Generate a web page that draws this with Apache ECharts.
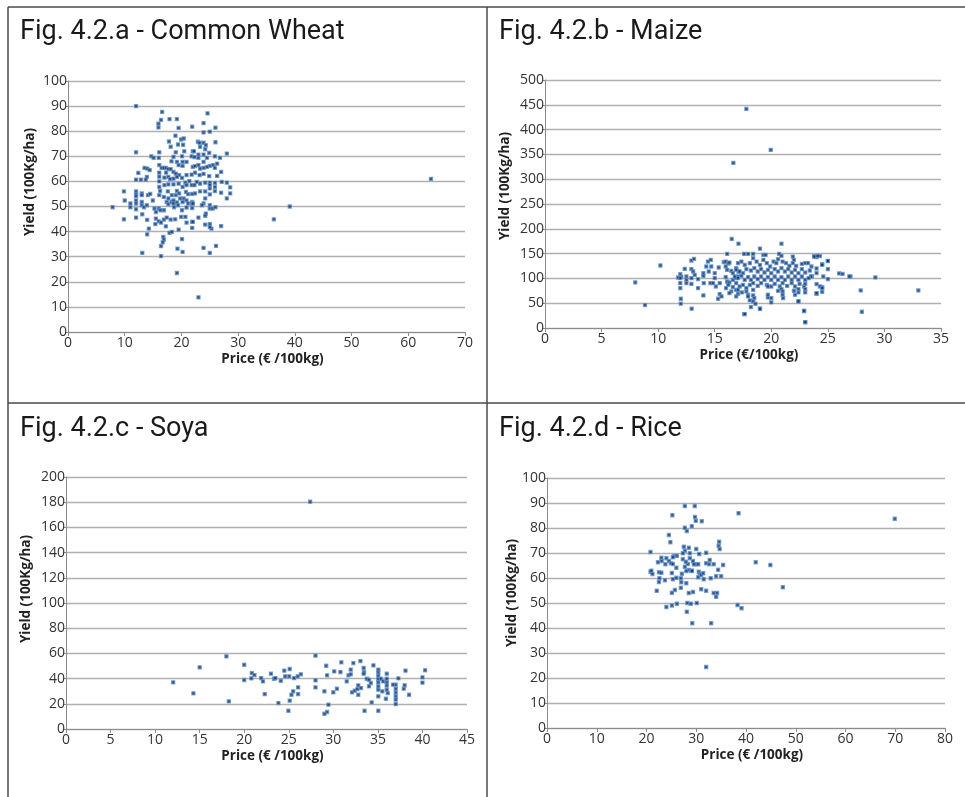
<!DOCTYPE html>
<html>
<head>
<meta charset="utf-8">
<title>Price vs yield scatter plots</title>
<script src="https://cdn.jsdelivr.net/npm/echarts@6/dist/echarts.min.js"></script>
<style>
  html, body { margin: 0; padding: 0; background: #ffffff; }
  #chart { width: 965px; height: 797px; }
</style>
</head>
<body>
<div id="chart"></div>
<script>
// Panel titles
const panelTitles = ['Fig. 4.2.a - Common Wheat', 'Fig. 4.2.b - Maize', 'Fig. 4.2.c - Soya', 'Fig. 4.2.d - Rice'];
const xNames = ['Price (€ /100kg)', 'Price (€/100kg)', 'Price (€ /100kg)', 'Price (€ /100kg)'];
const yName = 'Yield (100Kg/ha)';

// Axis ranges: [xMax, xStep, yMax, yStep]
const xMax = [70, 35, 45, 80];
const xStep = [10, 5, 5, 10];
const yMax = [100, 500, 200, 100];
const yStep = [10, 50, 20, 10];

// Common wheat: [price, yield]
const wheatPoints = [
  [12,90],[16.6,87.7],[16.4,84.5],[15.95,83],[15.95,81.5],[17.9,84.8],[19.2,84.8],[19.5,81.3],
  [18.95,78.2],[17.8,75.9],[19.95,76.7],[20.4,77.1],[19.4,74.7],[20.3,74.6],[18.1,73.8],
  [16.1,71.6],[12,71.6],[14.7,70],[15.1,69.4],[16,69.4],[19,71.6],[20.5,72],[22,72],
  [20.1,70],[21.8,70],[18.6,69.8],[18.25,68],[19.2,67.8],[20.2,67.8],[20.9,67.8],[22.3,69.7],[19.5,66.5],[20.2,66.2],[22,65.8],
  [16.1,66.5],[16.5,65.4],[16.9,65.4],[17.3,65.4],[17.7,64.9],[18.1,64.9],[13.5,65.4],[14,65.1],[14.4,64.5],[12.4,63.4],
  [16.1,63.5],[17.3,63.5],[18.6,63.8],[19,63.1],[19.6,62.5],[20.9,62.5],[21.8,62.7],[22.4,63.5],
  [13.9,61.8],[13.7,60.7],[12.85,60.7],[12,60.7],[16.1,61.9],[16.1,60],[17,61.5],[17.7,61.8],[18,60.9],[18.6,61.1],
  [19.2,61.8],[20.1,61.4],[20.7,59.5],[21.4,60.1],[21.8,58.5],[22.3,58.5],[20.9,58.5],[20.2,57.8],[19.5,59.1],
  [18.6,58.8],[17.7,58.8],[17,58.5],[16.1,57.8],
  [9.86,56],[12,56],[12,54.9],[12,54.1],[13,55.2],[13,54.5],[14.1,54.5],[14.5,55],[16.25,56.2],[16.1,54.5],
  [17.6,56],[18.3,54.5],[19.2,56.2],[19.6,55.2],[20.8,55.8],[21.2,54.9],[21.9,55],[20.4,53.2],[19,54.5],[17.7,53.2],[16.9,53.8],
  [7.86,49.7],[10,52.4],[11,51.2],[11,49.7],[12,52.4],[12,51.2],[12,48.9],[13,51.8],[13,50.5],[13.4,49.7],[13.9,50.5],
  [14.95,52.4],[15.25,49.2],[15.5,47.8],[16,49.2],[16.3,48.5],[16.9,48.5],[17.4,51.8],[17.7,50.9],[18.25,51.8],
  [18.6,52.4],[18.6,51.2],[19.2,51.6],[19.8,53.2],[20.2,51.8],[20.9,52.4],[21.2,51.2],[21.9,51.8],[18.7,49.7],
  [19.4,50.5],[20.1,48.5],[20.9,49.6],[21.9,49.4],[21.9,51.2],
  [9.86,44.9],[12,45.6],[13.1,46.9],[13.96,44.7],[15.5,45.2],[16,44.1],[16.9,44.8],[17.4,45.6],[18.1,44.8],[18.9,44.9],
  [19.95,45.9],[20.7,45.9],[20.9,43.6],[21.9,43.9],[21.9,41.5],[14.25,41.2],[13.96,38.9],[15.4,43],[16.4,43.6],
  [17.25,42.1],[17.9,39.5],[18.3,39.9],[19.5,40.8],[16.8,37.9],[16.9,36.8],[16.7,35.7],[16.4,34.2],[20.1,37],
  [13.1,31.5],[16.4,30.2],[19.3,33.2],[20.2,31.9],[19.2,23.5],
  [24.6,87.1],[23.9,83.2],[25,79.8],[23.9,79.5],[26,81.4],[21.9,81.8],[26,75.6],[22.9,75.8],[23.2,75.4],[23.9,75.4],
  [24.3,74.4],[23.3,73.8],[24.2,72.8],[28,71.1],[26.8,69.4],[24.9,71.4],[23.9,70.7],[23,70.7],[22.2,72],[24.5,69.4],
  [23,69.4],[23.9,67.8],[25.9,70],[26.3,67.1],[25.6,66.5],[25,66.2],[24.5,65.8],[23.9,65.4],[23.3,65.1],[23,66.5],
  [22.4,66.1],[25.9,65.4],[27,63.8],[24.9,62.1],[23.9,63],[23.2,62.5],[26.3,62.2],[22.7,59.8],[23.3,59.1],[24.2,59.5],
  [25,59.5],[25.9,59.4],[27.1,59.8],[28,59.5],[25,58.5],[25.9,57.8],[25,57.2],[25.9,56.1],[24.2,56],[23.3,56],
  [22.4,55.2],[27,55.5],[28.6,57.6],[28.6,55.2],[25,54.8],[28,53.2],[24.2,53.2],[23.9,51.2],[22,51.2],[25,50.5],
  [25,49.2],[25.5,49.2],[26,49.7],[23.6,50.5],[23,45.6],[24.3,47.2],[24.2,46.3],[22,43.9],[24.2,42.8],[25,43],
  [25.3,41.2],[27,42.2],[25,41.8],[23.9,33.5],[26.1,34.3],[25,31.5],[39.1,50],[36.3,44.9],[23,13.8],[64,61]
];

// Maize: [price, yield]
const maizePoints = [
  [17.8,441.7],[19.95,359],[16.65,333],[7.98,91.8],[8.84,46.2],[10.2,126],[12.96,38.9],[12,59],[12,49],
  [16.5,179.6],[17.1,170],[20.9,170],[19,160],[17.6,28],[19,39],[23,11.4],[22.9,34],[22.4,53.6],
  [27.9,75.7],[28,32.8],[33,75.7],[29.2,101.9],[27,103.9],[26,110],[26.3,109],
  [25,135],[25,118.6],[25,98.5],[24.6,103.9],[24.5,82.4],[24.5,73],[24.3,145],[24,142.8],[23.8,145],[24,120],
  [24,110.6],[24,88.5],[24,69],[23.6,104],[24.5,128.7],
  [16.1,149.4],[12.94,136],[13.17,139.4],[12.35,119.3],[11.96,108.5],[12.05,103.2],[11.76,101.8],[11.96,100.5],
  [12.5,103.8],[12.5,97.1],[12.5,90.4],[11.96,90.4],[11.96,80.4],[12.94,100.5],[12.94,118.6],[13.1,113.9],
  [13.23,107.2],[13.53,98.5],[12.94,89],[13.53,80.4],[14,110.5],[14,105],[14.03,90.4],[14,65.6],[14.4,134],
  [14.65,137.4],[14.26,124],[14.7,124],[14.47,113.9],[14.62,90.4],[14.85,90.4],[15,100.5],[15,110.5],[15.35,122],
  [15.1,83.7],[15.44,90.4],[15.44,68.3],[15.3,59],[15.6,63.6],[15.8,132.7],[15.97,134],[16.2,130],[15.97,124],
  [16.1,117.3],[16.3,132],[16.47,115.2],[16.6,110.5],[16.9,120.6],[17.1,113.9],[15.97,102.5],[16.1,93.8],[16.3,91.7],
  [16.6,97],[16.85,100.5],[17.06,103.8],[16.2,87],[16.6,82.4],[16.9,77],[16.47,73.7],[16,80.4],[16.3,70.3],
  [17.06,69],[16.9,63.6],
  [17.6,149.4],[17.95,149.4],[18.4,149.4],[19.3,147.4],[19.5,147.4],[20.7,149.4],[20.9,145.4],[21.9,144],[22,137.4],
  [23.8,144],[24.1,145.4],[25,135.4],[24.5,127.3],[26.9,103.8],
  [17.06,130.7],[17.36,134],[17.65,127.3],[18.1,130.7],[18.4,140.7],[18.7,134],[19,127.3],[19.3,137.4],[19.6,130.7],
  [19.9,124],[20.2,134],[20.45,130.7],[20.6,138.7],[21,134],[21.3,130.7],[21.6,125.3],[21.9,130.7],[22.2,125.3],
  [22.7,129.3],[23,130.7],[23.25,130.7],[23.55,124],
  [16.9,117.3],[17.2,113.9],[17.5,110.5],[17.8,118.6],[18.2,115.9],[18.5,120.6],[18.8,113.9],[19.1,118.6],[19.4,111.9],
  [19.7,117.3],[20,110.5],[20.3,118.6],[20.6,113.9],[20.9,120.6],[21.2,113.9],[21.5,118.6],[21.8,111.9],[22.1,117.3],
  [22.4,110.5],[22.7,118.6],[23,111.9],[23.4,115.9],[23.5,103.8],
  [16.77,103.8],[17.06,100.5],[17.36,105.2],[17.65,97.1],[17.95,102.5],[18.2,97.1],[18.5,103.8],[18.8,98.5],[19.1,103.8],
  [19.4,97.1],[19.7,102.5],[20,97.1],[20.3,103.8],[20.6,97.1],[20.9,102.5],[21.2,97.1],[21.5,103.8],[21.8,97.1],
  [22.1,103.8],[22.4,97.1],[22.7,103.8],[23,97.1],[23.3,100.5],
  [16.9,90.4],[17.2,83.7],[17.5,87],[17.8,80.4],[18.1,87],[18.4,90.4],[18.8,85],[19.1,90.4],[19.6,87],[20,83.7],
  [20.3,89.1],[20.75,83.7],[21,90.4],[21.4,85],[21.8,90.4],[22.1,83.7],[22.5,89.1],[22.9,83.7],[23,89.1],
  [17.06,77],[17.4,71.7],[17.8,73.7],[17.95,67],[18.4,77],[19.7,83.7],[20.6,75],[20.9,78.4],[21,73.7],[22,75],
  [22.4,78.4],[23,78.4],[23,71.7],[24,70.3],[24.3,83.7],[24.5,80.4],
  [17.95,63.6],[18.4,65.6],[18.5,60.3],[18.4,53.6],[18.1,55.6],[18.2,42.2],[18.6,48.9],[19,38.8],[20,60.3],[20,51.6],
  [19.7,61.6],[21.05,60.3],[22.4,53.6],[22.9,34.8],[23,12],[17.65,28.1],[22.4,71.7],[22.1,67],[19.7,67],[21,67]
];

// Soya: [price, yield]
const soyaPoints = [
  [12.03,37],[15,48.9],[14.3,28.3],[18,57.6],[18.27,21.9],[20,51],[20,38.9],[20.85,44.4],[21.15,42.8],[20.8,40.2],
  [21.9,40.4],[22.1,37.8],[22.3,27.7],[23,43.9],[23.35,39.9],[23.5,40.4],[24.1,38.3],[24.5,46.3],[24.6,41.8],[25.1,47.6],
  [25.05,41.8],[25.6,40.4],[26,41.8],[25.5,29.9],[25.3,27.2],[25.1,22.5],[26.05,33],[26.05,27.7],[23.84,20.6],[24.96,14.5],
  [28,58.2],[29.2,50.2],[29.3,42.6],[26.35,43.4],[28,38.6],[28,33],[29.45,19.3],[29.3,13.5],[29,12.1],[29,29.9],
  [30.1,45.7],[30.4,32],[30,29.1],[30.8,45.2],[30.9,52.9],[31.5,37.8],[31.7,42.6],[31.95,43.4],[31.95,47.1],[32.25,52.3],
  [32.1,29.1],[32.4,30.4],[32.7,31.7],[32.8,34.6],[32.8,27.2],[33.1,32.5],[33.04,53.9],[33.4,48.4],[33.45,45.2],[33.4,43.9],
  [33.75,39.9],[34,39.1],[34.2,36.5],[34,33.8],[34.5,50.5],[34.3,21.1],[33.5,14.5],[35.05,14.5],[35.05,47.1],[35.05,44.9],
  [35.05,42.3],[35.05,39.6],[35.05,37],[35.05,33.8],[35.05,31.2],[35.05,25.9],[35.35,39.9],[35.6,37.8],[35.99,43.9],
  [35.99,39.9],[35.99,37],[35.99,34.4],[35.99,31.2],[35.5,29.9],[36.1,28.5],[35.9,24],[37,19.8],[37,35.2],[37,32],
  [37,29],[37,26],[37,23.3],[36.7,35.2],[37.3,40.2],[37.9,32],[38,34.7],[38.1,46.3],[38.5,27.2],[40,41],[40,36.8],
  [40.3,46.6],[27.4,180.4]
];

// Rice: [price, yield]
const ricePoints = [
  [27.7,88.8],[29.7,88.8],[25.2,85.1],[38.5,85.9],[29.75,84.4],[29.9,82.9],[31.1,82.7],[29.1,80.7],[28.1,78.8],[27.7,80.1],
  [24.5,77.2],[24.8,74.3],[34.6,74.5],[34.5,72.9],[34.7,71.6],[20.8,70.4],[27.5,72.5],[28.5,72.1],[30,71.6],[27.7,70.9],
  [32,70.1],[30.6,69.6],[27.3,69.9],[28.7,69.9],[25.5,68.8],[26.1,68.9],[25.3,68.3],[24,67.9],[23,68.1],[23.05,66.8],
  [22.3,66.3],[24.5,66.8],[24.9,65.9],[25.3,65.6],[23.8,65.5],[26,64.1],[28.7,67.9],[27.3,67.5],[28.3,65.6],[27.9,66.5],
  [29.35,66.8],[29.9,65.5],[30.4,65.5],[27.7,64.5],[29.5,65.5],[28.5,63.2],[29,62.8],[32.7,67.2],[32,65.9],[32.6,65.5],
  [33.5,65.5],[35.4,65.2],[41.95,66.3],[44.9,65.2],[30.5,62.5],[30.7,61.6],[31,61.2],[30.4,60.3],[31.4,61.9],[31.5,59.5],
  [32.9,59.9],[34,60.7],[35,60.7],[34.4,63.3],[20.8,62.5],[21.2,61.6],[20.97,62.9],[22.5,62.3],[23,62.1],[23.7,59.1],
  [22.6,59.9],[22.5,58.4],[25.1,62],[25.3,59.5],[26,60.1],[26.9,59.9],[27,58.3],[28,57.9],[29.15,62.9],[28,62.8],
  [27.1,61.7],[25.7,55.2],[26.9,56.1],[25.1,54.1],[22.05,54.9],[29.35,54.4],[28.5,54],[31,55.5],[32,54.9],[33.5,54],
  [34.2,54],[34,52.5],[47.4,56.3],[28.2,50],[28.9,49.7],[30.1,50],[26.1,49.7],[25.1,49],[24,48.4],[38.3,49.2],
  [39.1,47.9],[28.1,46.5],[29.2,41.9],[33,41.9],[32,24.4],[69.9,83.7]
];

const allPoints = [wheatPoints, maizePoints, soyaPoints, ricePoints];

// Plot-area placement of the four panels (left, top, width, height)
const plotBoxes = [
  { left: 68, top: 81, width: 397, height: 251 },
  { left: 545, top: 80, width: 396, height: 248 },
  { left: 66, top: 477, width: 401, height: 252 },
  { left: 547, top: 478, width: 398, height: 250 }
];
// Rotated y-axis name centres
const yNamePos = [[30, 182], [505, 186], [26, 589], [512, 593]];
// Title anchors (top-left of the title box)
const titlePos = [[15, 14], [494, 14], [15, 411], [494, 411]];

const chart = echarts.init(document.getElementById('chart'), null, { renderer: 'canvas' });

const labelFont = '"Open Sans", "DejaVu Sans", sans-serif';
const gridColor = '#b0b0b0';

const grids = [], xAxes = [], yAxes = [], series = [], titles = [], graphics = [];

plotBoxes.forEach((b, i) => {
  grids.push({ left: b.left, top: b.top, width: b.width, height: b.height, containLabel: false });
  xAxes.push({
    type: 'value', gridIndex: i, min: 0, max: xMax[i], interval: xStep[i],
    name: xNames[i], nameLocation: 'middle', nameGap: 20,
    nameTextStyle: { fontFamily: labelFont, fontWeight: 'bold', fontSize: 13.5, color: '#222', padding: [0, 0, 0, 12] },
    axisLine: { show: true, lineStyle: { color: '#8c8c8c', width: 1 } },
    axisTick: { show: true, length: 4, lineStyle: { color: '#8c8c8c' } },
    axisLabel: { fontFamily: labelFont, fontSize: 14, color: '#333', margin: 4 },
    splitLine: { show: false }
  });
  yAxes.push({
    type: 'value', gridIndex: i, min: 0, max: yMax[i], interval: yStep[i],
    axisLine: { show: true, lineStyle: { color: '#8c8c8c', width: 1 } },
    axisTick: { show: true, length: 3, lineStyle: { color: '#8c8c8c' } },
    axisLabel: { fontFamily: labelFont, fontSize: 14, color: '#333', margin: 1 },
    splitLine: { show: true, lineStyle: { color: gridColor, width: 1.3 } }
  });
  series.push({
    type: 'scatter', xAxisIndex: i, yAxisIndex: i,
    data: allPoints[i],
    symbol: 'rect', symbolSize: 3.2,
    itemStyle: { color: '#102a52', borderColor: '#5f93d2', borderWidth: 1.1 },
    silent: true, animation: false
  });
  titles.push({
    text: panelTitles[i], left: titlePos[i][0], top: titlePos[i][1],
    textStyle: { fontFamily: 'Roboto, "DejaVu Sans", sans-serif', fontWeight: 'normal', fontSize: 27, color: '#1a1a1a' }
  });
  graphics.push({
    type: 'text', x: yNamePos[i][0], y: yNamePos[i][1], rotation: Math.PI / 2,
    style: {
      text: yName, fill: '#222', font: 'bold 13.5px ' + labelFont,
      textAlign: 'center', textVerticalAlign: 'middle'
    }
  });
});

// Panel frame: outer edges and dividers
const frameStyle = { stroke: '#4a4a4a', lineWidth: 1.5 };
[[8, 7, 965, 7], [8, 7, 8, 797], [487, 7, 487, 797], [8, 403, 965, 403]].forEach(s => {
  graphics.push({ type: 'line', shape: { x1: s[0], y1: s[1], x2: s[2], y2: s[3] }, style: frameStyle, silent: true });
});

chart.setOption({
  backgroundColor: '#ffffff',
  animation: false,
  title: titles,
  grid: grids,
  xAxis: xAxes,
  yAxis: yAxes,
  series: series,
  graphic: graphics
});
</script>
</body>
</html>
